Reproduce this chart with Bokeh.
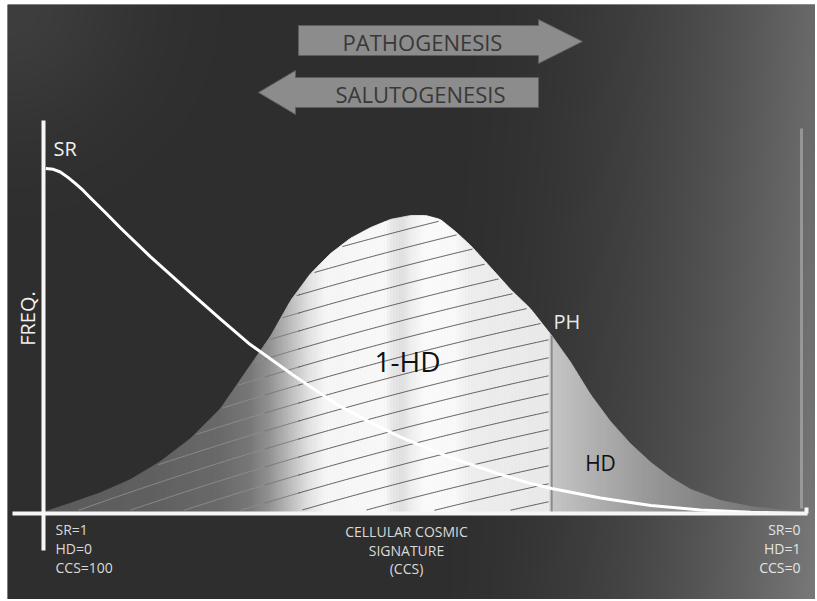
import numpy as np
from bokeh.plotting import figure
from bokeh.models import Range1d, Label
from bokeh.embed import file_html
from bokeh.resources import INLINE

# ---------------- data (CCS position 0..100 left->right, frequency) ----------------
bell_x = [0.3, 3.5, 7.5, 11.4, 15.3, 19.3, 23.2, 27.1, 29.8, 32.4, 35.0, 37.6, 40.2, 42.9,
          45.5, 48.1, 50.1, 52.0, 54.0, 56.0, 58.6, 61.2, 63.8, 66.6, 69.1, 71.7, 74.3,
          76.9, 79.6, 82.2, 84.8, 88.7, 92.7, 96.6, 99.9]
bell_y = [0.007, 0.034, 0.070, 0.114, 0.174, 0.252, 0.352, 0.497, 0.597, 0.715, 0.805, 0.872,
          0.923, 0.960, 0.987, 1.000, 1.000, 0.987, 0.946, 0.899, 0.826, 0.752, 0.688, 0.597,
          0.507, 0.399, 0.309, 0.235, 0.171, 0.121, 0.081, 0.044, 0.023, 0.013, 0.007]
sr_x = [0.3, 1.3, 2.2, 3.2, 4.2, 5.2, 6.2, 8.1, 10.1, 14.0, 19.3, 23.2, 27.1, 32.7, 38.3,
        42.9, 46.8, 53.3, 59.9, 63.8, 66.6, 73.0, 79.6, 86.1, 92.7, 99.0]
sr_y = [1.158, 1.155, 1.146, 1.128, 1.107, 1.084, 1.058, 1.010, 0.958, 0.862, 0.740, 0.652,
        0.567, 0.465, 0.368, 0.305, 0.256, 0.188, 0.131, 0.101, 0.084, 0.052, 0.027, 0.012,
        0.004, 0.0]
ph_x = 66.6
arrow_labels = ["PATHOGENESIS", "SALUTOGENESIS"]
left_labels = ["SR=1", "HD=0", "CCS=100"]
center_labels = ["CELLULAR COSMIC", "SIGNATURE", "(CCS)"]
right_labels = ["SR=0", "HD=1", "CCS=0"]

# ---------------- layout helpers (page px <-> data) ----------------
W, H = 815, 599
FL, FT = 7, 4            # frame left/top in page px
OX, SX = 43.0, 7.63      # page px of x=0, px per unit
OY, SY = 513.0, 298.0    # page px of y=0, px per unit
def dx(px): return (px - OX) / SX
def dy(py): return (OY - py) / SY

FONT = "Open Sans"
p = figure(width=W, height=H, x_range=Range1d(dx(FL), dx(W)), y_range=Range1d(dy(H), dy(FT)),
           output_backend="svg", toolbar_location=None,
           min_border_left=FL, min_border_top=FT, min_border_right=0, min_border_bottom=0)
p.axis.visible = False
p.grid.visible = False
p.outline_line_color = None
p.background_fill_color = "#333333"
p.border_fill_color = "white"

# ---------------- background gradient ----------------
fw, fh = W - FL, H - FT
cols = np.arange(fw) + FL
rows = FT + (fh - 1 - np.arange(fh))
XX, YY = np.meshgrid(cols, rows)
s = np.clip((XX - 430) / 380.0, 0, 1)
v = 46 + 58 * s ** 2 + 16 * s * (YY / 600.0) + 16 * np.exp(-((XX - 7) ** 2 + (YY - 4) ** 2) / (2 * 90.0 ** 2))
v = np.clip(v, 0, 255).astype(np.uint32)
img = (255 << 24) | (v << 16) | (v << 8) | v
p.image_rgba(image=[img.astype(np.uint32)], x=dx(FL), y=dy(H), dw=dx(W) - dx(FL), dh=dy(FT) - dy(H))

# ---------------- bell fill (shaded strips) ----------------
prof_px = [45, 150, 220, 250, 270, 290, 310, 325, 385, 393, 402, 412, 425, 455, 470, 549, 552, 600, 650, 700, 760, 806]
prof_v = [92, 96, 106, 120, 148, 188, 228, 246, 249, 230, 224, 240, 251, 249, 238, 234, 198, 174, 152, 134, 120, 114]
edges = np.arange(45, 806, 3.0)
xs_list, ys_list, cl = [], [], []
for a, b in zip(edges[:-1], edges[1:]):
    xa, xb = dx(a), dx(b)
    ya, yb = np.interp(xa, bell_x, bell_y), np.interp(xb, bell_x, bell_y)
    xs_list.append([xa, xa, xb, xb])
    ys_list.append([0, ya, yb, 0])
    g = int(np.interp((a + b) / 2, prof_px, prof_v))
    cl.append("#%02x%02x%02x" % (g, g, g))
p.patches(xs_list, ys_list, fill_color=cl, line_color=cl, line_width=0.8)

# ---------------- hatch lines ----------------
bell_px = OX + np.array(bell_x) * SX
bell_py = OY - np.array(bell_y) * SY
hx, hy, hc = [], [], []
for c in np.arange(240, 620, 18.0):
    xs = np.arange(48, 550, 2.0)
    ys = c - 0.29 * (xs - 300) + 0.00015 * (xs - 300) ** 2
    top = np.interp(xs, bell_px, bell_py)
    inside = (ys > top + 1.5) & (ys < 510)
    idx = np.where(inside)[0]
    if len(idx) < 2:
        continue
    runs = np.split(idx, np.where(np.diff(idx) != 1)[0] + 1)
    for r in runs:
        if len(r) < 2:
            continue
        for lo, hi, colr in [(0, 265, "#909090"), (265, 300, "#747474"), (300, 1000, "#4a4a4a")]:
            sel = r[(xs[r] >= lo - 2) & (xs[r] <= hi)]
            if len(sel) >= 2:
                hx.append([dx(q) for q in xs[sel]])
                hy.append([dy(q) for q in ys[sel]])
                hc.append(colr)
p.multi_line(hx, hy, line_color=hc, line_width=1, line_alpha=0.9)

# ---------------- PH line, SR curve ----------------
p.segment(x0=[ph_x], y0=[0], x1=[ph_x], y1=[float(np.interp(ph_x, bell_x, bell_y))],
          line_color="#8a8a8a", line_width=2)
p.line(sr_x, sr_y, line_color="white", line_width=3, line_join="round")

# ---------------- axes lines ----------------
p.segment(x0=[dx(12), dx(43), dx(806)], y0=[dy(513), dy(120), dy(513)],
          x1=[dx(807), dx(43), dx(806)], y1=[dy(513), dy(550), dy(507)],
          line_color="#f6f6f6", line_width=4)
p.segment(x0=[dx(801)], y0=[dy(128)], x1=[dx(801)], y1=[dy(508)], line_color="#b4b4b4",
          line_width=3, line_alpha=0.6)

# ---------------- arrows ----------------
pa = [(298, 25), (538, 25), (538, 19), (582, 41), (538, 63), (538, 55), (298, 55)]
sa = [(538, 77), (295, 77), (295, 70), (258, 92), (295, 114), (295, 107), (538, 107)]
p.patches([[dx(a) for a, b in pa], [dx(a) for a, b in sa]],
          [[dy(b) for a, b in pa], [dy(b) for a, b in sa]],
          fill_color="#8c8c8c", line_color="#5e5e5e", line_width=1)
p.add_layout(Label(x=dx(422), y=dy(41), text=arrow_labels[0], text_align="center", text_baseline="middle",
                   text_font=FONT, text_font_size="22px", text_color="#383838"))
p.add_layout(Label(x=dx(420), y=dy(93), text=arrow_labels[1], text_align="center", text_baseline="middle",
                   text_font=FONT, text_font_size="22px", text_color="#383838"))

# ---------------- labels ----------------
def lab(px, py, t, size, color, align="left", angle=0.0):
    p.add_layout(Label(x=dx(px), y=dy(py), text=t, text_align=align, text_baseline="middle",
                       text_font=FONT, text_font_size=size, text_color=color, angle=angle))

lab(53, 148, "SR", "20px", "#f0f0f0")
lab(27, 318, "FREQ.", "20px", "#f0f0f0", "center", np.pi / 2)
lab(407, 360, "1-HD", "28px", "#111111", "center")
lab(553, 321, "PH", "20px", "#e8e8e8")
lab(600, 462, "HD", "21px", "#111111", "center")
for i, t in enumerate(left_labels):
    lab(55, 529 + 19 * i, t, "14px", "#dadada")
for i, t in enumerate(center_labels):
    lab(406, 531 + 18.5 * i, t, "14px", "#dadada", "center")
for i, t in enumerate(right_labels):
    lab(800, 529 + 19 * i, t, "14px", "#e4e4e4", "right")

open("out.html", "w").write(file_html(p, INLINE))
